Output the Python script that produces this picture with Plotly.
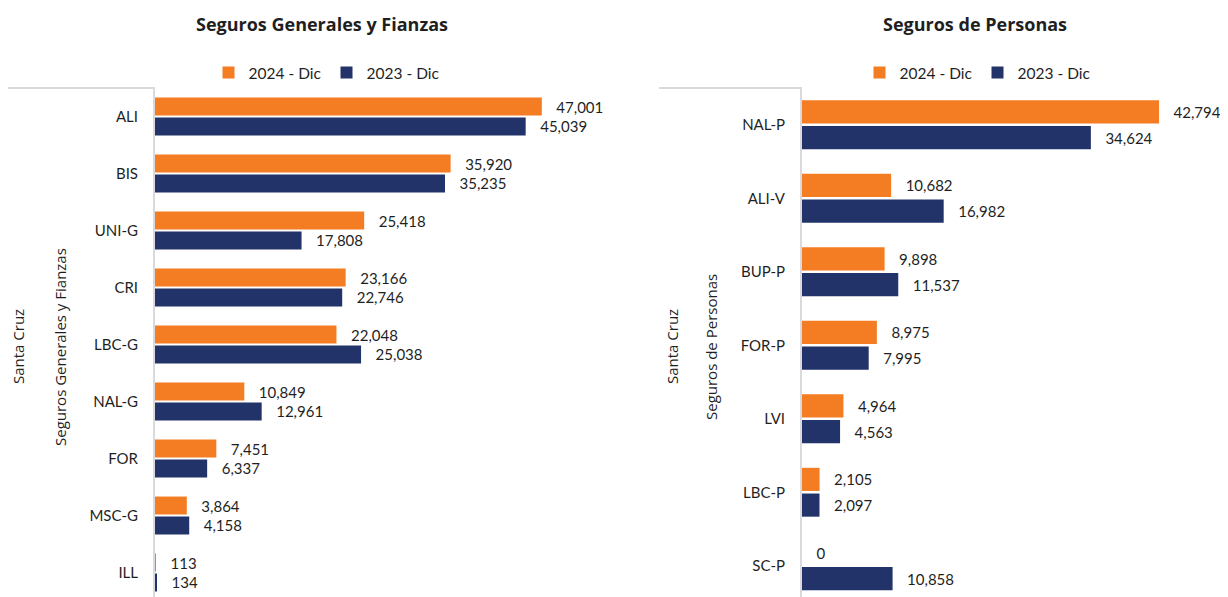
import plotly.graph_objects as go

# Left panel: Seguros Generales y Fianzas
cats_g = ["ALI", "BIS", "UNI-G", "CRI", "LBC-G", "NAL-G", "FOR", "MSC-G", "ILL"]
g_2024 = [47001, 35920, 25418, 23166, 22048, 10849, 7451, 3864, 113]
g_2023 = [45039, 35235, 17808, 22746, 25038, 12961, 6337, 4158, 134]

# Right panel: Seguros de Personas
cats_p = ["NAL-P", "ALI-V", "BUP-P", "FOR-P", "LVI", "LBC-P", "SC-P"]
p_2024 = [42794, 10682, 9898, 8975, 4964, 2105, 0]
p_2023 = [34624, 16982, 11537, 7995, 4563, 2097, 10858]

series_names = ["2024 - Dic", "2023 - Dic"]
colors = ["#F47C22", "#22336A"]

FONT = "Lato"
TXT = "#1f1f1f"
OFF = 8                      # page body margin
W, H = 1228 - OFF, 597 - OFF
TOP = 88 - OFF
PH = H - TOP

def px(xv):   # viewport x -> paper x
    return (xv - OFF) / W

def py(yv):   # viewport y -> paper y
    return (H - (yv - OFF)) / PH

fig = go.Figure()

pad = "\u00a0\u00a0\u00a0"

def add(cats, vals, name, color, xa, ya, lg):
    fig.add_trace(go.Bar(
        y=cats, x=vals, name=name, orientation="h",
        marker=dict(color=color, line=dict(width=0)),
        text=vals, texttemplate=pad + "%{x:,}", textposition="outside",
        textfont=dict(family=FONT, size=15, color=TXT),
        constraintext="none", cliponaxis=False,
        xaxis=xa, yaxis=ya, legend=lg, hoverinfo="skip",
    ))

add(cats_g, g_2024, series_names[0], colors[0], "x", "y", "legend")
add(cats_g, g_2023, series_names[1], colors[1], "x", "y", "legend")
add(cats_p, p_2024, series_names[0], colors[0], "x2", "y2", "legend2")
add(cats_p, p_2023, series_names[1], colors[1], "x2", "y2", "legend2")

axis_line = "#d9d9de"

fig.update_layout(
    width=W, height=H,
    margin=dict(l=0, r=0, t=TOP, b=0),
    paper_bgcolor="white", plot_bgcolor="white",
    barmode="group", bargap=0.3, bargroupgap=0.1,
    font=dict(family=FONT, size=15, color=TXT),
    xaxis=dict(domain=[px(155), px(620)], range=[0, 56500], visible=False, fixedrange=True),
    xaxis2=dict(domain=[px(802), px(1225)], range=[0, 50700], visible=False, fixedrange=True),
    yaxis=dict(anchor="x", range=[-0.5 + (597 - 88) / 57.0, -0.5], showgrid=False,
               showline=True, linecolor=axis_line, linewidth=2, ticks="",
               ticklabelstandoff=12, tickfont=dict(family=FONT, size=15, color=TXT)),
    yaxis2=dict(anchor="x2", range=[-0.5 + (597 - 88) / 73.5, -0.5], showgrid=False,
                showline=True, linecolor=axis_line, linewidth=2, ticks="",
                ticklabelstandoff=12, tickfont=dict(family=FONT, size=15, color=TXT)),
    legend=dict(orientation="h", x=px(327), xanchor="center", y=py(73), yanchor="middle",
                font=dict(family=FONT, size=15.5, color=TXT), itemwidth=30, traceorder="normal"),
    legend2=dict(orientation="h", x=px(978), xanchor="center", y=py(73), yanchor="middle",
                 font=dict(family=FONT, size=15.5, color=TXT), itemwidth=30, traceorder="normal"),
    showlegend=True,
)

def ann(text, x, y, size=14, bold=False, angle=0, family=FONT):
    fig.add_annotation(text=("<b>%s</b>" % text) if bold else text,
                       x=x, y=y, xref="paper", yref="paper", showarrow=False,
                       textangle=angle, xanchor="center", yanchor="middle",
                       font=dict(family=family, size=size, color=TXT))

ann("Seguros Generales y Fianzas", px(322), py(24), size=18, bold=True, family="Open Sans")
ann("Seguros de Personas", px(975), py(24), size=18, bold=True, family="Open Sans")
mid = py(347)
ann("Santa Cruz", px(18), mid, size=15, angle=-90, family="Open Sans")
ann("Seguros Generales y Fianzas", px(60), mid, size=15, angle=-90, family="Open Sans")
ann("Santa Cruz", px(672), mid, size=15, angle=-90, family="Open Sans")
ann("Seguros de Personas", px(711), mid, size=15, angle=-90, family="Open Sans")

# top bracket lines of the category label area
fig.add_shape(type="line", xref="paper", yref="paper", x0=px(7), x1=px(155), y0=1, y1=1,
              line=dict(color=axis_line, width=2))
fig.add_shape(type="line", xref="paper", yref="paper", x0=px(659), x1=px(802), y0=1, y1=1,
              line=dict(color=axis_line, width=2))

fig.write_html("out.html")
